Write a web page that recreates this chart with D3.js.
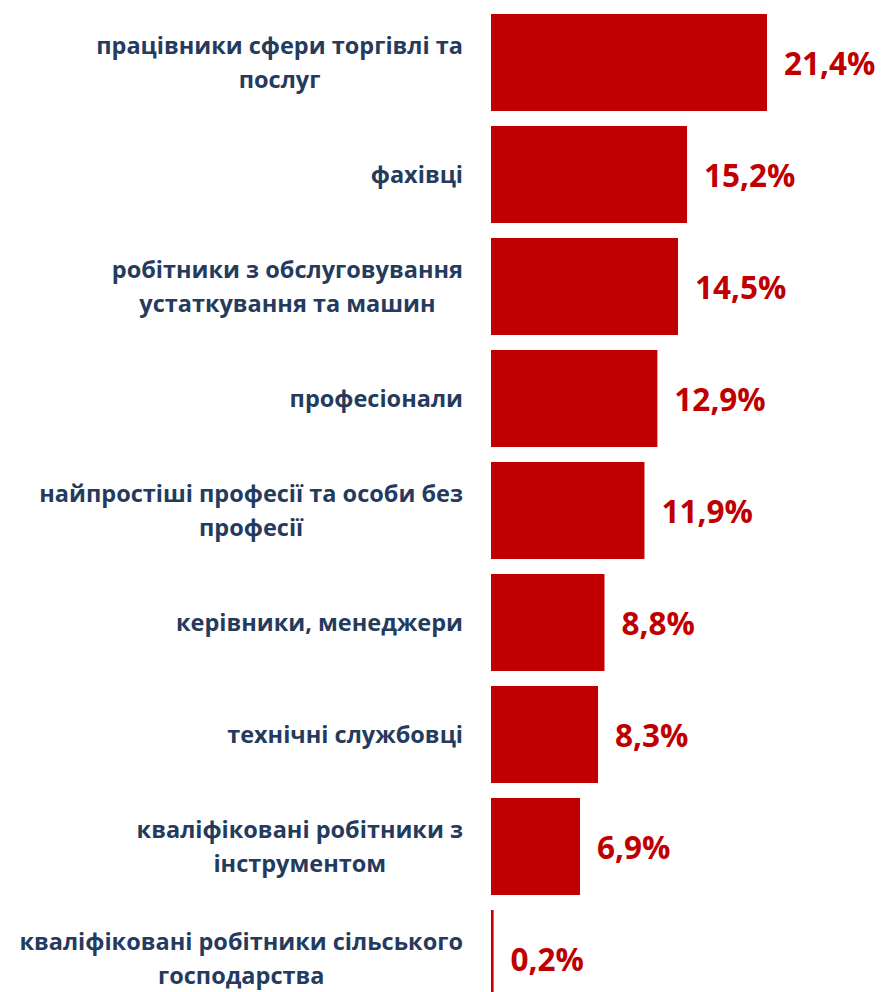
<!DOCTYPE html>
<html><head><meta charset="utf-8">
<script src="https://cdn.jsdelivr.net/npm/d3@7"></script>
<style>body{margin:0;background:#fff;}svg{display:block;}</style>
</head><body>
<script>
const categories = [
  "працівники сфери торгівлі та\nпослуг",
  "фахівці",
  "робітники з обслуговування\nустаткування та машин",
  "професіонали",
  "найпростіші професії та особи без\nпрофесії",
  "керівники, менеджери",
  "технічні службовці",
  "кваліфіковані робітники з\nінструментом",
  "кваліфіковані робітники сільського\nгосподарства"
];
const values = [21.4, 15.2, 14.5, 12.9, 11.9, 8.8, 8.3, 6.9, 0.2];
const valueLabels = ["21,4%", "15,2%", "14,5%", "12,9%", "11,9%", "8,8%", "8,3%", "6,9%", "0,2%"];

const W = 881, H = 992;
const svg = d3.select("body").append("svg").attr("width", W).attr("height", H);

const x = d3.scaleLinear().domain([0, 21.4]).range([491, 767]);
const y = d3.scaleBand().domain(categories).range([6.5, 1014.5]).paddingInner(0.134).paddingOuter(0.067);

const data = categories.map((c, i) => ({c, v: values[i], l: valueLabels[i]}));

svg.selectAll("rect.bar").data(data).enter().append("rect")
  .attr("class", "bar")
  .attr("x", x(0))
  .attr("y", d => y(d.c))
  .attr("width", d => x(d.v) - x(0))
  .attr("height", y.bandwidth())
  .attr("fill", "#c00000");

const font = "'Open Sans', sans-serif";

svg.selectAll("text.val").data(data).enter().append("text")
  .attr("class", "val")
  .attr("x", d => x(d.v) + 17)
  .attr("y", d => y(d.c) + y.bandwidth() / 2 + 12)
  .attr("font-family", font)
  .attr("font-weight", "bold")
  .attr("font-size", 31.5)
  .attr("fill", "#c00000")
  .text(d => d.l);

const lab = svg.selectAll("text.cat").data(data).enter().append("text")
  .attr("class", "cat")
  .attr("text-anchor", "middle")
  .attr("font-family", font)
  .attr("font-weight", "bold")
  .attr("font-size", 23.5)
  .attr("fill", "#243b5e");

lab.each(function(d) {
  const lines = d.c.split("\n");
  const cy = y(d.c) + y.bandwidth() / 2;
  const lh = 34;
  const t = d3.select(this);
  const spans = lines.map((ln, i) => t.append("tspan")
      .attr("y", cy + 8 + (i - (lines.length - 1) / 2) * lh)
      .text(ln));
  const maxW = d3.max(spans, s => s.node().getComputedTextLength());
  spans.forEach(s => s.attr("x", 463 - maxW / 2));
});
</script>
</body></html>
